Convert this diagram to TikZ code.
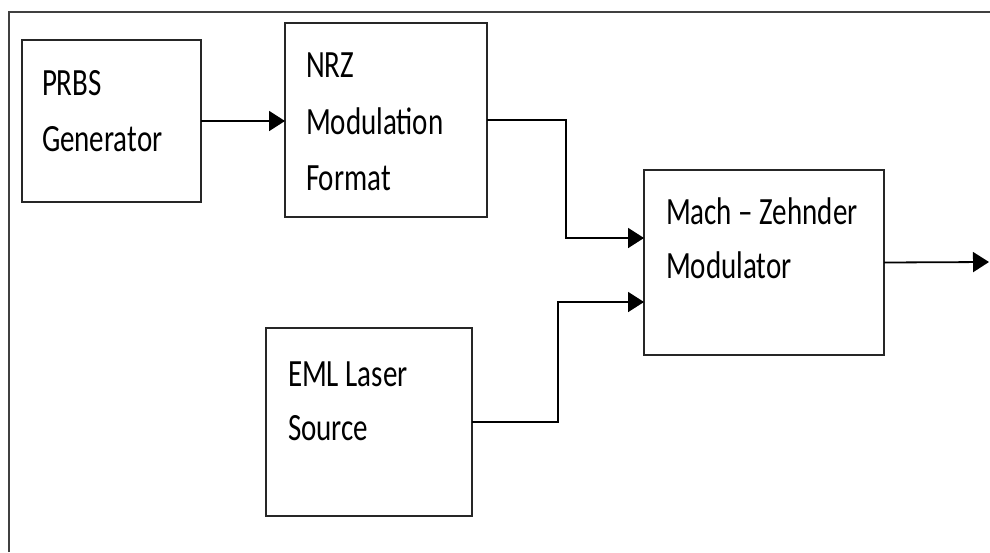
\documentclass[tikz,border=0pt]{standalone}
\usepackage{fontspec}
\setmainfont{Carlito}
\usetikzlibrary{arrows.meta,calc}
\tikzset{
  box/.style={draw=black!85, line width=1.6pt, rectangle, inner sep=0pt, outer sep=0pt},
  txt/.style={anchor=base west, inner sep=0pt, outer sep=0pt, font=\fontsize{29}{30}\selectfont},
  conn/.style={draw=black, line width=1.8pt, -{Triangle[length=16pt,width=20pt]}},
  frame/.style={draw=black!75, line width=1.2pt}
}
\newcommand{\vs}[1]{\scalebox{1}[1.33]{#1}}
\begin{document}
\begin{tikzpicture}[x=1pt,y=-1pt]
\useasboundingbox (0,0) rectangle (990,552);
\draw[frame] (9,552) -- (9,12) -- (990,12);

\node[box, minimum width=179pt, minimum height=162pt] (prbs) at (111.5,121) {};
\node[box, minimum width=202pt, minimum height=194pt] (nrz) at (386,120) {};
\node[box, minimum width=240pt, minimum height=185pt] (mzm) at (764,262.5) {};
\node[box, minimum width=206pt, minimum height=188pt] (eml) at (369,422) {};

\node[txt] (t1) at (42,95) {\vs{PRBS}};
\node[txt] (t2) at (42,151.5) {\vs{Generator}};
\node[txt] (t3) at (306,77.5) {\vs{NRZ}};
\node[txt] (t4) at (306,134.5) {\vs{Modulation}};
\node[txt] (t5) at (306,190.5) {\vs{Format}};
\node[txt] (t6) at (666,224) {\vs{Mach – Zehnder}};
\node[txt] (t7) at (666,278.5) {\vs{Modulator}};
\node[txt] (t8) at (288,386.5) {\vs{EML Laser}};
\node[txt] (t9) at (288,440) {\vs{Source}};

\coordinate (in1) at (644,238);
\coordinate (in2) at (644,302);
\coordinate (out) at (989,262);

\draw[conn] (prbs.east) -- (prbs.east -| nrz.west);
\draw[conn] (nrz.east) -- ++(79,0) |- (in1);
\draw[conn] (eml.east) -- ++(86,0) |- (in2);
\draw[conn] (mzm.east) -- (out);
\end{tikzpicture}
\end{document}
